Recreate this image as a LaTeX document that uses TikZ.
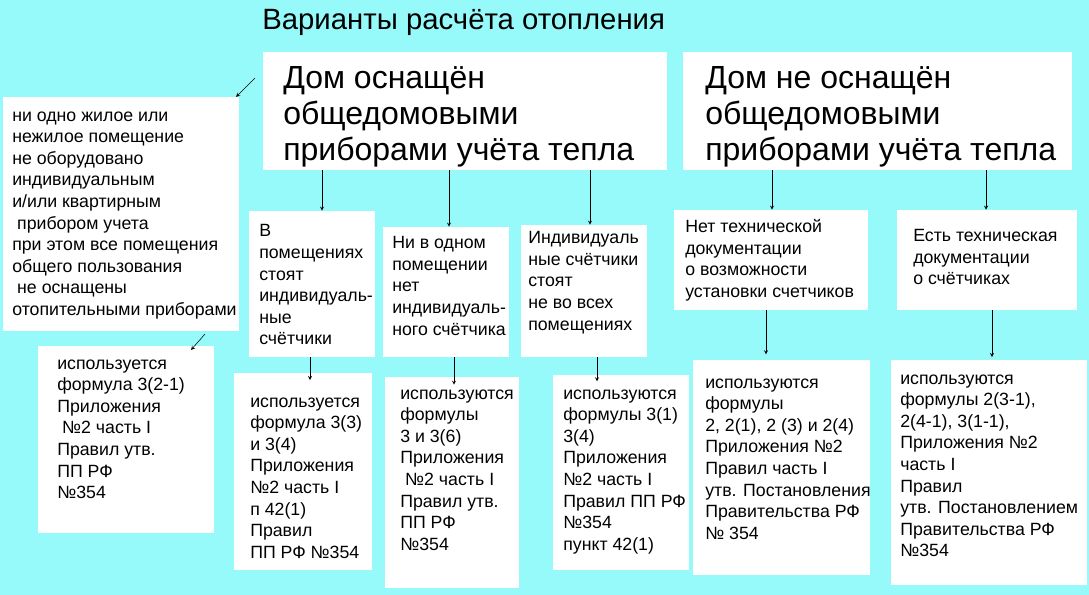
\documentclass[tikz,border=0pt]{standalone}
\usepackage{fontspec}
\setmainfont{Liberation Sans}
\usetikzlibrary{fit}
\definecolor{bg}{RGB}{150,250,250}
\tikzset{
  wbox/.style={fill=white,inner sep=0pt},
  txt/.style={anchor=north west,inner sep=0pt,align=left,yshift=-2.5pt,font=\fontsize{13.3pt}{16.2pt}\selectfont},
  big/.style={anchor=north west,inner sep=0pt,align=left,font=\fontsize{24pt}{27pt}\selectfont},
  arr/.style={-stealth,thin,black}
}
\begin{document}
\begin{tikzpicture}[x=0.75pt,y=-0.75pt]
\fill[bg] (0,0) rectangle (1089,595);
\useasboundingbox (0,0) rectangle (1089,595);
\node[anchor=west,inner sep=0pt,font=\fontsize{22pt}{24pt}\selectfont] (title) at (262,22) {Варианты расчёта отопления};
\node[wbox,fit={(263,52)(667,170)}] (b1) {};
\node[wbox,fit={(683,52)(1072,170)}] (b2) {};
\node[wbox,fit={(3,97)(239,331)}] (L) {};
\node[wbox,fit={(249,211)(375,357)}] (A) {};
\node[wbox,fit={(383,227)(509,357)}] (B) {};
\node[wbox,fit={(521,225)(647,357)}] (C) {};
\node[wbox,fit={(674,210)(868,310)}] (D) {};
\node[wbox,fit={(897,210)(1077,310)}] (E) {};
\node[wbox,fit={(38,346)(214,533)}] (F) {};
\node[wbox,fit={(234,373)(372,570)}] (G) {};
\node[wbox,fit={(385,377)(519,588)}] (H) {};
\node[wbox,fit={(553,375)(689,570)}] (I) {};
\node[wbox,fit={(693,360)(870,575)}] (J) {};
\node[wbox,fit={(891,360)(1087,585)}] (K) {};

\node[big] (t1) at (283,66) {Дом оснащён\\общедомовыми\\приборами учёта тепла};
\node[big] (t2) at (705,66) {Дом не оснащён\\общедомовыми\\приборами учёта тепла};
\node[txt] (tL) at (12,108) {ни одно жилое или\\нежилое помещение\\не оборудовано\\индивидуальным\\и/или квартирным\\\ прибором учета\\при этом все помещения\\общего пользования\\\ не оснащены\\отопительными приборами};
\node[txt] (tA) at (259,221) {В\\помещениях\\стоят\\индивидуаль-\\ные\\счётчики};
\node[txt] (tB) at (392,233) {Ни в одном\\помещении\\нет\\индивидуаль-\\ного счётчика};
\node[txt] (tC) at (528,228) {Индивидуаль\\ные счётчики\\стоят\\не во всех\\помещениях};
\node[txt] (tD) at (685,216) {Нет технической\\документации\\о возможности\\установки счетчиков};
\node[txt] (tE) at (913,226) {Есть техническая\\документации\\о счётчиках};
\node[txt] (tF) at (57,356) {используется\\формула 3(2-1)\\Приложения\\\ №2 часть I\\Правил утв.\\ПП РФ\\№354};
\node[txt] (tG) at (250,394) {используется\\формула 3(3)\\и 3(4)\\Приложения\\№2 часть I\\п 42(1)\\Правил\\ПП РФ №354};
\node[txt] (tH) at (400,386) {используются\\формулы\\3 и 3(6)\\Приложения\\\ №2 часть I\\Правил утв.\\ПП РФ\\№354};
\node[txt] (tI) at (563,386) {используются\\формулы 3(1)\\3(4)\\Приложения\\№2 часть I\\Правил ПП РФ\\№354\\пункт 42(1)};
\node[txt] (tJ) at (705,375) {используются\\формулы\\2, 2(1), 2 (3) и 2(4)\\Приложения №2\\Правил часть I\\утв. Постановления\\Правительства РФ\\№ 354};
\node[txt] (tK) at (900,371) {используются\\формулы 2(3-1),\\2(4-1), 3(1-1),\\Приложения №2\\часть I\\Правил\\утв. Постановлением\\Правительства РФ\\№354};

\coordinate (s0) at (255,78);
\coordinate (e0) at (236,97);
\draw[arr] (s0) -- (e0);
\draw[arr] (b1.south -| 322,0) -- (A.north -| 322,0);
\draw[arr] (b1.south -| 449,0) -- (B.north -| 449,0);
\draw[arr] (b1.south -| 590,0) -- (C.north -| 590,0);
\draw[arr] (b2.south -| 772,0) -- (D.north -| 772,0);
\draw[arr] (b2.south -| 986,0) -- (E.north -| 986,0);
\draw[arr] (A.south -| 310,0) -- ([yshift=-5.5pt]G.north -| 310,0);
\draw[arr] (B.south -| 454,0) -- ([yshift=-6pt]H.north -| 454,0);
\draw[arr] (C.south -| 597,0) -- ([yshift=-5pt]I.north -| 597,0);
\draw[arr] (D.south -| 766,0) -- ([yshift=4pt]J.north -| 766,0);
\draw[arr] (E.south -| 992,0) -- ([yshift=2pt]K.north -| 992,0);
\coordinate (s1) at (205,334);
\coordinate (e1) at (191,350);
\draw[arr] (s1) -- (e1);
\end{tikzpicture}
\end{document}
